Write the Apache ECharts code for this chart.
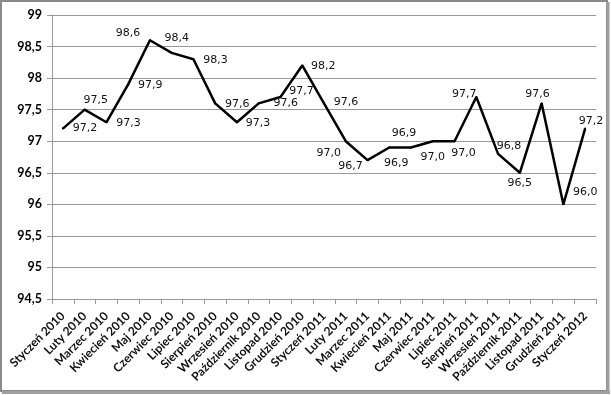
<!DOCTYPE html>
<html>
<head>
<meta charset="utf-8">
<script src="https://cdn.jsdelivr.net/npm/echarts@6/dist/echarts.min.js"></script>
<style>
html,body{margin:0;padding:0;background:#fff;}
#chart{width:611px;height:395px;}
</style>
</head>
<body>
<div id="chart"></div>
<script>
const categories = ['Styczeń 2010','Luty 2010','Marzec 2010','Kwiecień 2010','Maj 2010','Czerwiec 2010','Lipiec 2010','Sierpień 2010','Wrzesień 2010','Październik 2010','Listopad 2010','Grudzień 2010','Styczeń 2011','Luty 2011','Marzec 2011','Kwiecień 2011','Maj 2011','Czerwiec 2011','Lipiec 2011','Sierpień 2011','Wrzesień 2011','Październik 2011','Listopad 2011','Grudzień 2011','Styczeń 2012'];
const values = [97.2,97.5,97.3,97.9,98.6,98.4,98.3,97.6,97.3,97.6,97.7,98.2,97.6,97.0,96.7,96.9,96.9,97.0,97.0,97.7,96.8,96.5,97.6,96.0,97.2];
const yMin = 94.5, yMax = 99, yStep = 0.5;

// label offsets (style only): label centre relative to the point
const labelOffsets = [[22,0],[11,-10],[22,1],[22,1],[-22,-7],[5,-15],[22,1],[22,1],[21,1],[27,0],[21,-6],[21,1],[22,-1],[-17,12],[-17,6],[7,16],[-7,-14],[0,16],[9,12],[-12,-3],[11,-8],[0,10],[-4,-9],[22,-12],[6,-7]];

const chart = echarts.init(document.getElementById('chart'), null, {renderer:'canvas'});
chart.setOption({
  animation:false,
  backgroundColor:'#fff',
  grid:{left:52,right:15,top:15,bottom:96,containLabel:false},
  xAxis:{
    type:'category',
    data:categories,
    boundaryGap:true,
    axisLine:{lineStyle:{color:'#999',width:1}},
    axisTick:{show:true,length:5,lineStyle:{color:'#999'}},
    axisLabel:{rotate:45,interval:0,margin:15,color:'#111',fontFamily:'Lato',fontWeight:'bold',fontSize:12}
  },
  yAxis:{
    type:'value',
    min:yMin,max:yMax,interval:yStep,
    axisLine:{show:true,lineStyle:{color:'#999',width:1}},
    axisTick:{show:true,length:5,lineStyle:{color:'#999'}},
    splitLine:{show:true,lineStyle:{color:'#999',width:1}},
    axisLabel:{margin:10,color:'#000',fontFamily:'Lato',fontWeight:'bold',fontSize:12.5,
      formatter:v=>String(Math.round(v*10)/10).replace('.',',')}
  },
  series:[{
    type:'line',
    data:values,
    showSymbol:true,
    showAllSymbol:true,
    symbol:'circle',
    symbolSize:2,
    itemStyle:{color:'#000'},
    lineStyle:{color:'#000',width:2.5},
    label:{show:true,position:'inside',color:'#111',fontFamily:'DejaVu Sans',fontSize:11,
      formatter:p=>p.value.toFixed(1).replace('.',',')},
    labelLayout:(p)=>({dx:labelOffsets[p.dataIndex][0],dy:labelOffsets[p.dataIndex][1],hideOverlap:false})
  }],
  graphic:[
    {type:'rect',shape:{x:1,y:1,width:606,height:390},style:{fill:'none',stroke:'#8a8a8a',lineWidth:2},silent:true,z:100},
    {type:'line',shape:{x1:608,y1:2,x2:608,y2:393},style:{stroke:'#a0a0a0',lineWidth:3},silent:true,z:100},
    {type:'line',shape:{x1:2,y1:392.5,x2:610,y2:392.5},style:{stroke:'#a0a0a0',lineWidth:3},silent:true,z:100}
  ]
});
</script>
</body>
</html>
